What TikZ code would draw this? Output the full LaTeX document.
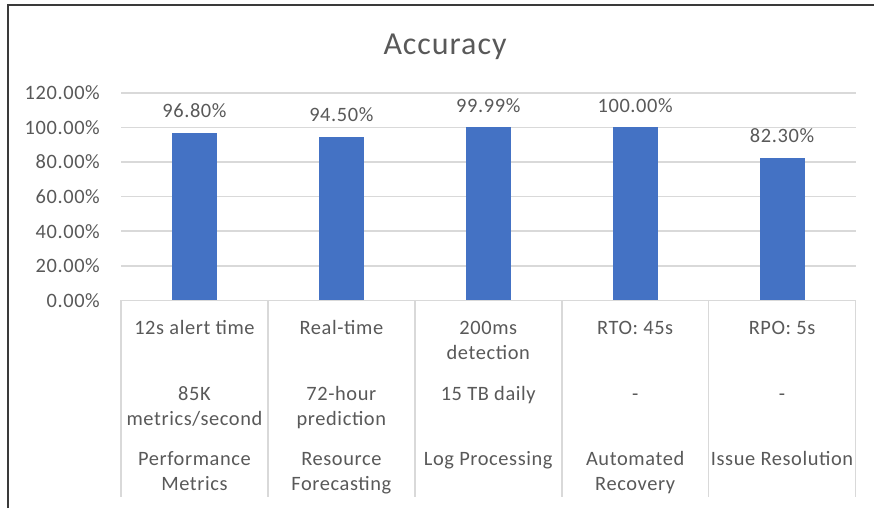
\documentclass[tikz,border=0pt]{standalone}
\usepackage{fontspec}
\setmainfont{Carlito}[LetterSpace=3]
\definecolor{txt}{HTML}{595959}
\definecolor{gridc}{HTML}{D9D9D9}
\definecolor{barc}{HTML}{4472C4}
\definecolor{framec}{HTML}{3A3A3A}
\newcommand{\ycoord}[1]{300.3-1.73*#1}
\begin{document}
\begin{tikzpicture}[x=1pt,y=-1pt,
  every node/.style={inner sep=0pt, text=txt},
  lbl/.style={font=\fontsize{20.4}{24}\selectfont, anchor=base},
  ticklbl/.style={font=\fontsize{20.4}{24}\selectfont, anchor=base east},
  titlelbl/.style={font=\fontsize{32}{36}\selectfont, anchor=base},
  gridline/.style={draw=gridc, line width=1.6pt},
  tblline/.style={draw=gridc, line width=1.6pt},
  barfill/.style={fill=barc},
  framel/.style={draw=framec, line width=1.6pt}]
\useasboundingbox (0,0) rectangle (874,508);
\fill[white] (0,0) rectangle (874,508);
% frame
\draw[framel] (8,508) -- (8,5) -- (874,5);
% title
\node[titlelbl] (title) at (445,54.5) {Accuracy};
% grid lines and tick labels
\foreach \k/\t in {0/0.00\%,1/20.00\%,2/40.00\%,3/60.00\%,4/80.00\%,5/100.00\%,6/120.00\%}{
  \draw[gridline] (121,{\ycoord{20*\k}}) -- (856,{\ycoord{20*\k}});
  \node[ticklbl] (tick\k) at (100,{\ycoord{20*\k}+7}) {\t};
}
% table vertical lines
\foreach \i in {0,...,5}{
  \draw[tblline] ({121+146.9*\i},300.3) -- ({121+146.9*\i},497);
}
% bars and data labels
\foreach \i/\v/\t in {0/96.8/96.80\%,1/94.5/94.50\%,2/99.99/99.99\%,3/100/100.00\%,4/82.3/82.30\%}{
  \pgfmathsetmacro{\cx}{194.45+146.9*\i}
  \fill[barfill] ({\cx-22.5},300.3) rectangle ({\cx+22.5},{\ycoord{\v}});
  \node[lbl] (val\i) at (\cx,{\ycoord{\v}-15}) {\t};
}
% table text
\node[lbl] (r1c1a) at (194.45,334) {12s alert time};
\node[lbl] (r1c2a) at (341.35,334) {Real-time};
\node[lbl] (r1c3a) at (488.25,334) {200ms};
\node[lbl] (r1c3b) at (488.25,359.5) {detection};
\node[lbl] (r1c4a) at (635.15,334) {RTO: 45s};
\node[lbl] (r1c5a) at (782.05,334) {RPO: 5s};
\node[lbl] (r2c1a) at (194.45,400) {85K};
\node[lbl] (r2c1b) at (194.45,425.5) {metrics/second};
\node[lbl] (r2c2a) at (341.35,400) {72-hour};
\node[lbl] (r2c2b) at (341.35,425.5) {prediction};
\node[lbl] (r2c3a) at (488.25,400) {15 TB daily};
\node[lbl] (r2c4a) at (635.15,400) {-};
\node[lbl] (r2c5a) at (782.05,400) {-};
\node[lbl] (r3c1a) at (194.45,465) {Performance};
\node[lbl] (r3c1b) at (194.45,490.5) {Metrics};
\node[lbl] (r3c2a) at (341.35,465) {Resource};
\node[lbl] (r3c2b) at (341.35,490.5) {Forecasting};
\node[lbl] (r3c3a) at (488.25,465) {Log Processing};
\node[lbl] (r3c4a) at (635.15,465) {Automated};
\node[lbl] (r3c4b) at (635.15,490.5) {Recovery};
\node[lbl] (r3c5a) at (782.05,465) {Issue Resolution};
\end{tikzpicture}
\end{document}
